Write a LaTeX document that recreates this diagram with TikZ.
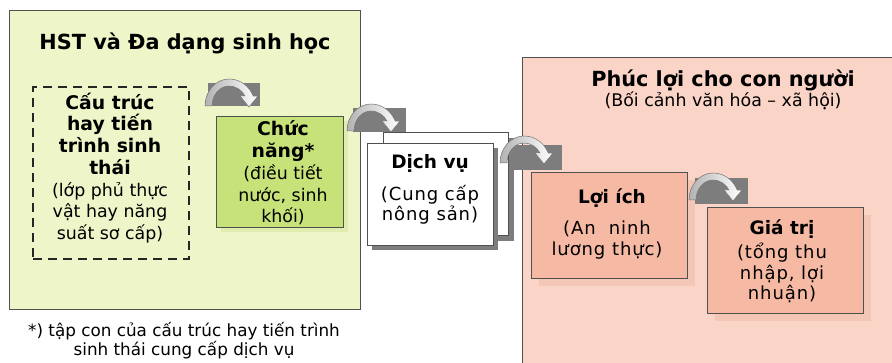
\documentclass[tikz,border=0pt]{standalone}
\usepackage{fontspec}
\setmainfont{DejaVu Sans}
\newfontfamily\widefont{DejaVu Sans}[LetterSpace=5]
\definecolor{greenbg}{RGB}{238,245,201}
\definecolor{greenbox}{RGB}{200,226,122}
\definecolor{greenshadow}{RGB}{224,237,175}
\definecolor{pinkbg}{RGB}{250,212,198}
\definecolor{pinkbox}{RGB}{246,186,164}
\definecolor{pinkshadow}{RGB}{244,198,182}
\definecolor{iconbg}{RGB}{125,125,125}
\definecolor{edge}{RGB}{80,80,80}
\tikzset{
  box/.style={draw=edge, line width=0.8pt, anchor=north west, inner sep=0pt},
  iconrect/.style={fill=iconbg, anchor=north west, inner sep=0pt},
  titletext/.style={font=\fontsize{20.8}{24}\selectfont\bfseries, align=center},
  boxtitle/.style={font=\fontsize{18.5}{22}\selectfont\bfseries, align=center},
  bodytext/.style={font=\fontsize{17.4}{21.7}\selectfont, align=center},
  widetext/.style={font=\widefont\fontsize{18}{20.5}\selectfont, align=center},
  curv/.pic={
    \path[draw=edge!80, line width=0.5pt, left color=gray!60, right color=white, yscale=-1]
      (0,0) arc[start angle=180,end angle=90,x radius=24,y radius=27]
      arc[start angle=90,end angle=21.7,x radius=26,y radius=27]
      -- (53,10) -- (44,-1) -- (35,10) -- (40,10)
      arc[start angle=30,end angle=90,x radius=18.5,y radius=20]
      arc[start angle=90,end angle=180,x radius=17,y radius=20] -- cycle;
  }
}
\begin{document}
\begin{tikzpicture}[x=1pt,y=-1pt]
\useasboundingbox (0,0) rectangle (892,363);
\fill[white] (0,0) rectangle (892,363);
% panels
\node[box, fill=greenbg, minimum width=351pt, minimum height=299pt] (hst) at (9,10) {};
\node[fill=pinkbg, anchor=north west, inner sep=0pt, minimum width=380pt, minimum height=320pt] (hw) at (522,57) {};
\draw[edge, line width=0.8pt] (hw.south west) -- (hw.north west) -- (hw.north east);
% titles
\node[titletext] (t1) at (185,43) {HST và Đa dạng sinh học};
\node[titletext] (t2) at (723,80) {Phúc lợi cho con người};
\node[bodytext] (t2b) at (723,101) {(Bối cảnh văn hóa – xã hội)};
% dashed box
\node[draw=black!85, dash pattern=on 9pt off 6pt, line width=2.4pt, fill=greenbg, anchor=north west, inner sep=0pt, minimum width=156pt, minimum height=172pt] (cau) at (32,86) {};
\node[bodytext] (caut) at (110,168) {{\fontsize{18.8}{21.7}\selectfont\bfseries Cấu trúc}\\{\fontsize{18.8}{21.7}\selectfont\bfseries hay tiến}\\{\fontsize{18.8}{21.7}\selectfont\bfseries trình sinh}\\{\fontsize{18.8}{21.7}\selectfont\bfseries thái}\\(lớp phủ thực\\vật hay năng\\suất sơ cấp)};
% chuc nang
\fill[greenshadow] (221,121) rectangle (348,232);
\node[box, fill=greenbox, minimum width=127pt, minimum height=111pt] (chuc) at (216,116) {};
\node[bodytext] (chuct) at (283,173) {{\fontsize{18.8}{21.7}\selectfont\bfseries Chức}\\{\fontsize{18.8}{21.7}\selectfont\bfseries năng*}\\(điều tiết\\nước, sinh\\khối)};
% dich vu stack
\fill[iconbg] (389,138) rectangle (514,241);
\node[box, fill=white, minimum width=125pt, minimum height=103pt] (dv2) at (383,132) {};
\fill[iconbg] (372,148) rectangle (498,250);
\node[box, fill=white, minimum width=126pt, minimum height=102pt] (dv) at (367,143) {};
\node[boxtitle] (dvt) at (430,163) {Dịch vụ};
\node[widetext] (dvb) at (430,205) {(Cung cấp\\nông sản)};
% loi ich
\fill[pinkshadow] (539,180) rectangle (695,286);
\node[box, fill=pinkbox, minimum width=156pt, minimum height=106pt] (li) at (531,172) {};
\node[boxtitle] (lit) at (612,198) {Lợi ích};
\node[widetext] (lib) at (607,240) {(An\ \ ninh\\lương thực)};
% gia tri
\fill[pinkshadow] (715,215) rectangle (871,321);
\node[box, fill=pinkbox, minimum width=156pt, minimum height=106pt] (gt) at (707,207) {};
\node[boxtitle] (gtt) at (782,229) {Giá trị};
\node[widetext] (gtb) at (782,273) {(tổng thu\\nhập, lợi\\nhuận)};
% icons
\node[iconrect, minimum width=52pt, minimum height=23pt] (i1) at (208,83) {};
\pic at (205,106) {curv};
\node[iconrect, minimum width=53pt, minimum height=24pt] (i2) at (353,108) {};
\pic at (347,131) {curv};
\node[iconrect, minimum width=49pt, minimum height=25pt] (i3) at (513,145) {};
\pic at (500,163) {curv};
\node[iconrect, minimum width=53pt, minimum height=26pt] (i4) at (695,178) {};
\pic at (689,200) {curv};
% footnote
\node[bodytext, font=\fontsize{16.8}{19}\selectfont] (fn) at (184,341) {*) tập con của cấu trúc hay tiến trình\\sinh thái cung cấp dịch vụ};
\end{tikzpicture}
\end{document}
